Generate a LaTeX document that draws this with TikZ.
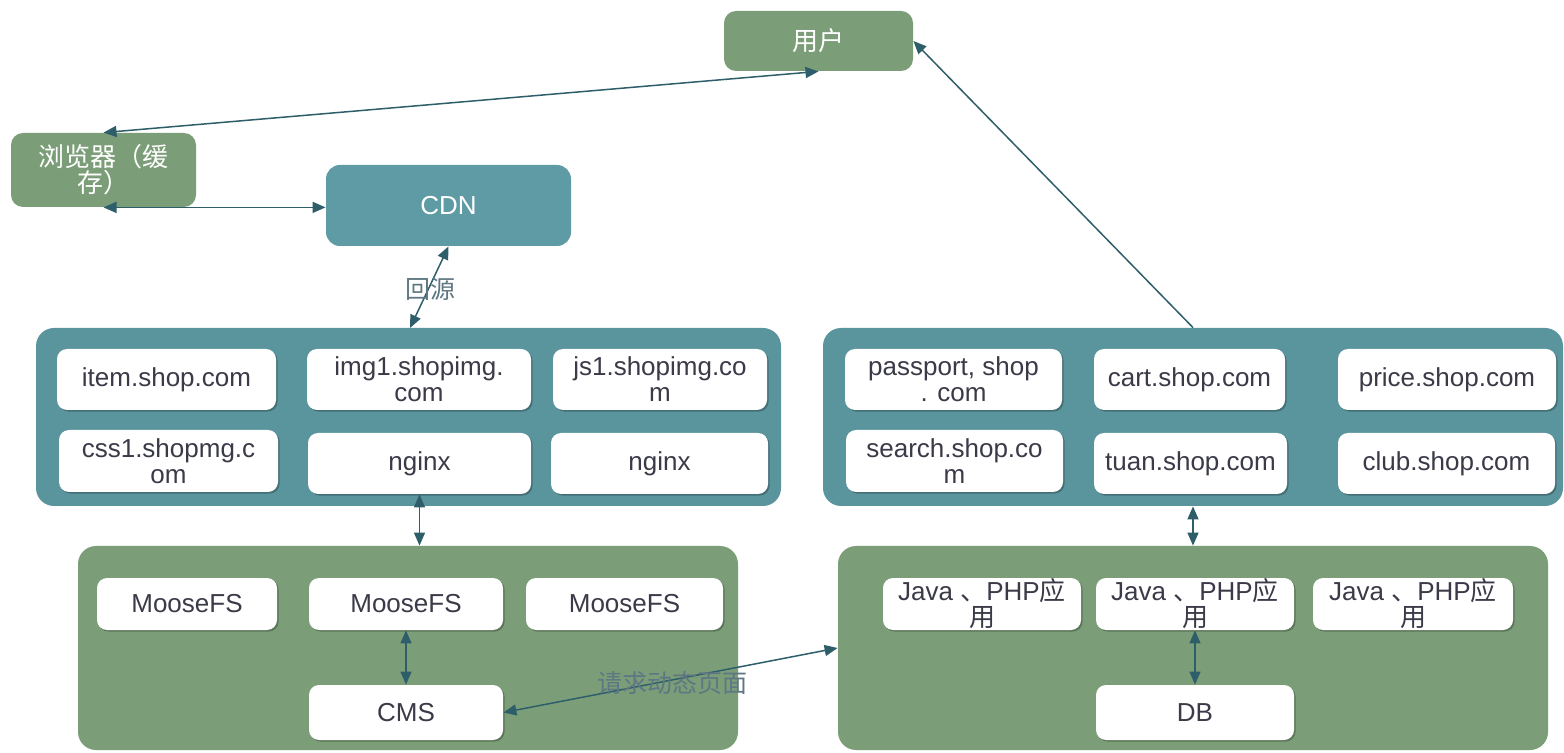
\documentclass[tikz,border=0pt]{standalone}
\usepackage{fontspec}
\setmainfont{Liberation Sans}
\newfontfamily\cjk{Noto Sans CJK SC}
\usetikzlibrary{arrows.meta,shadows}

\definecolor{sagegreen}{HTML}{7B9E78}
\definecolor{tealbox}{HTML}{5E9BA4}
\definecolor{linkcol}{HTML}{2F5E6B}
\definecolor{inktext}{HTML}{3A3A48}
\definecolor{notecol}{HTML}{5E7782}

\tikzset{
  boxfont/.style={font=\fontsize{13}{13}\selectfont},
  greenbox/.style={fill=sagegreen, text=white, rounded corners=6pt, inner sep=0pt, align=center,
    font=\cjk\fontsize{13}{13}\selectfont},
  tealbox/.style={fill=tealbox, text=white, rounded corners=7pt, inner sep=0pt, align=center, boxfont},
  tealpanel/.style={fill=tealbox!96!black, rounded corners=9pt, inner sep=0pt},
  greenpanel/.style={fill=sagegreen, rounded corners=9pt, inner sep=0pt},
  card/.style={fill=white, rounded corners=5pt, text=inktext, inner sep=0pt, align=center, boxfont,
    drop shadow={shadow xshift=0.8pt, shadow yshift=-0.8pt, opacity=0.25, fill=black}},
  link/.style={draw=linkcol, line width=0.75pt,
    {Triangle[length=6.5pt,width=5.5pt]}-{Triangle[length=6.5pt,width=5.5pt]}},
  onelink/.style={draw=linkcol, line width=0.75pt, -{Triangle[length=6.5pt,width=5.5pt]}},
  note/.style={text=notecol, font=\cjk\fontsize{12.5}{12.5}\selectfont, inner sep=0pt},
}

% \placebox{name}{x1}{y1}{x2}{y2}{style}{text}, coordinates in pixels (y downwards)
\newcommand\placebox[7]{%
  \node[#6, minimum width={(#4-#2)*0.5pt}, minimum height={(#5-#3)*0.5pt}]
    (#1) at ({(#2+#4)/2},{(#3+#5)/2}) {#7};}

\begin{document}
\begin{tikzpicture}[x=0.5pt, y=-0.5pt]
  \useasboundingbox[fill=white] (0,0) rectangle (1564,753);

  % top: user, browser, CDN
  \placebox{user}{724}{11}{913}{71}{greenbox}{用户}
  \placebox{browser}{11}{133}{196}{207}{greenbox}{浏览器（缓\\存）}
  \placebox{cdn}{326}{165}{571}{246}{tealbox}{CDN}

  % static-resource domains
  \placebox{lpanel}{36}{328}{781}{506}{tealpanel}{}
  \placebox{item}{57}{349}{276}{410}{card}{item.shop.com}
  \placebox{img}{307}{349}{531}{410}{card}{img1.shopimg.\\com}
  \placebox{js}{553}{349}{767}{410}{card}{js1.shopimg.co\\m}
  \placebox{css}{59}{430}{278}{492}{card}{css1.shopmg.c\\om}
  \placebox{nginxa}{308}{433}{531}{494}{card}{nginx}
  \placebox{nginxb}{551}{433}{768}{494}{card}{nginx}

  % dynamic-page domains
  \placebox{rpanel}{823}{328}{1563}{506}{tealpanel}{}
  \placebox{passport}{845}{349}{1062}{410}{card}{passport, shop\\. com}
  \placebox{cart}{1094}{349}{1285}{410}{card}{cart.shop.com}
  \placebox{price}{1338}{349}{1556}{410}{card}{price.shop.com}
  \placebox{search}{846}{430}{1063}{492}{card}{search.shop.co\\m}
  \placebox{tuan}{1094}{433}{1287}{494}{card}{tuan.shop.com}
  \placebox{club}{1338}{433}{1555}{494}{card}{club.shop.com}

  % storage tier
  \placebox{lgreen}{78}{546}{738}{750}{greenpanel}{}
  \placebox{mfsa}{97}{578}{277}{630}{card}{MooseFS}
  \placebox{mfsb}{309}{578}{503}{630}{card}{MooseFS}
  \placebox{mfsc}{526}{578}{723}{630}{card}{MooseFS}
  \placebox{cms}{309}{685}{503}{740}{card}{CMS}

  % application tier
  \placebox{rgreen}{838}{546}{1548}{750}{greenpanel}{}
  \placebox{appa}{883}{578}{1081}{630}{card}{Java {\cjk 、}PHP{\cjk 应}\\{\cjk 用}}
  \placebox{appb}{1096}{578}{1294}{630}{card}{Java {\cjk 、}PHP{\cjk 应}\\{\cjk 用}}
  \placebox{appc}{1313}{578}{1513}{630}{card}{Java {\cjk 、}PHP{\cjk 应}\\{\cjk 用}}
  \placebox{db}{1096}{685}{1294}{740}{card}{DB}

  \coordinate (lin) at (410,328);

  % connectors
  \draw[link] (browser.north) -- (user.south);
  \draw[link] (browser.south) -- (browser.south -| cdn.west);
  \draw[link] (cdn.south) -- (lin);
  \node[note] at (430,289) {回源};
  \draw[link] (nginxa.south) -- (nginxa.south |- lgreen.north);
  \draw[link] (mfsb.south) -- (cms.north);
  \draw[link] (cms.east) -- (rgreen.west);
  \node[note] at (672,683) {请求动态页面};
  \draw[link] (rpanel.south) -- (rgreen.north);
  \draw[link] (appb.south) -- (db.north);
  \draw[onelink] (rpanel.north) -- (user.east);
\end{tikzpicture}
\end{document}
